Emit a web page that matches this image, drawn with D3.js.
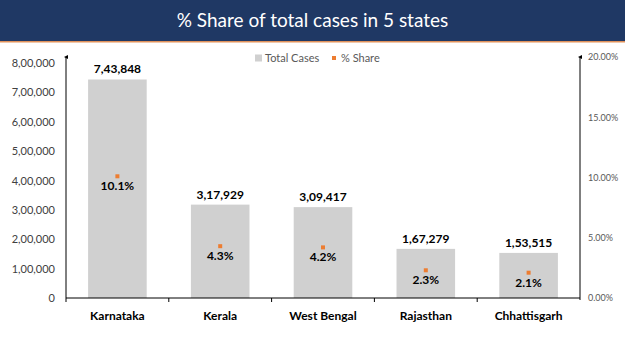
<!DOCTYPE html>
<html>
<head>
<meta charset="utf-8">
<script src="https://cdn.jsdelivr.net/npm/d3@7"></script>
<style>
  html, body { margin: 0; padding: 0; background: #fff; }
  svg { display: block; font-family: Lato, "Open Sans", sans-serif; }
</style>
</head>
<body>
<div id="chart"></div>
<script>
const states = ['Karnataka', 'Kerala', 'West Bengal', 'Rajasthan', 'Chhattisgarh'];
const totalCases = [743848, 317929, 309417, 167279, 153515];
const shares = [0.101, 0.043, 0.042, 0.023, 0.021];
const caseTicks = [0, 100000, 200000, 300000, 400000, 500000, 600000, 700000, 800000];
const shareTicks = [0, 0.05, 0.10, 0.15, 0.20];

const width = 625, height = 351;
const COLORS = { banner: '#1f3864', accent: '#e0915a', bar: '#d0d0d0', dot: '#ed7d31', text: '#404040' };

const data = states.map((s, i) => ({ state: s, cases: totalCases[i], share: shares[i] }));

const svg = d3.select('#chart').append('svg')
    .attr('width', width).attr('height', height);

// Title banner
svg.append('rect').attr('x', 0).attr('y', 0).attr('width', width).attr('height', 41)
    .attr('fill', COLORS.banner);
svg.append('rect').attr('x', 0).attr('y', 41).attr('width', width).attr('height', 1.5)
    .attr('fill', COLORS.accent);
svg.append('text').attr('x', width / 2).attr('y', 27)
    .attr('text-anchor', 'middle').attr('fill', '#fff')
    .style('font-size', '19px')
    .text('% Share of total cases in 5 states');

const left = 66, right = 580, bottom = 298;

const x = d3.scaleBand().domain(states).range([left, right]).paddingInner(0.43).paddingOuter(0.215);
const xTicks = d3.scaleBand().domain(states).range([left, right]);
const y = d3.scaleLinear().domain([0, 800000]).range([bottom, 63]);
const y2 = d3.scaleLinear().domain([0, 0.2]).range([bottom, 57]);

// Bars
svg.selectAll('rect.bar').data(data).enter().append('rect')
    .attr('class', 'bar')
    .attr('x', (d) => x(d.state))
    .attr('y', (d) => y(d.cases))
    .attr('width', x.bandwidth())
    .attr('height', (d) => bottom - y(d.cases))
    .attr('fill', COLORS.bar);

// Bar value labels
const fmtIN = (v) => {
    const s = String(v);
    if (s.length <= 3) return s;
    const last3 = s.slice(-3);
    const rest = s.slice(0, -3).replace(/\B(?=(\d{2})+(?!\d))/g, ',');
    return rest + ',' + last3;
};
svg.selectAll('text.val').data(data).enter().append('text')
    .attr('class', 'val')
    .attr('x', (d) => x(d.state) + x.bandwidth() / 2)
    .attr('y', (d) => y(d.cases) - 6)
    .attr('text-anchor', 'middle')
    .style('font-size', '12px').style('font-weight', 'bold').attr('fill', '#000')
    .text((d) => fmtIN(d.cases));

// Share markers
svg.selectAll('rect.dot').data(data).enter().append('rect')
    .attr('class', 'dot')
    .attr('x', (d) => x(d.state) + x.bandwidth() / 2 - 2)
    .attr('y', (d) => y2(d.share) - 2)
    .attr('width', 4).attr('height', 4)
    .attr('fill', COLORS.dot);
svg.selectAll('text.pct').data(data).enter().append('text')
    .attr('class', 'pct')
    .attr('x', (d) => x(d.state) + x.bandwidth() / 2)
    .attr('y', (d) => y2(d.share) + 14)
    .attr('text-anchor', 'middle')
    .style('font-size', '12px').style('font-weight', 'bold').attr('fill', '#000')
    .text((d) => (d.share * 100).toFixed(1) + '%');

// Axes
const styleAxis = (sel) => {
    sel.selectAll('text').attr('fill', COLORS.text).style('font-size', '11px')
        .style('font-family', 'Lato, "Open Sans", sans-serif');
    sel.selectAll('line').attr('stroke', '#000');
    sel.select('.domain').remove();
};

svg.append('g').attr('transform', `translate(${left},0)`)
    .call(d3.axisLeft(y).tickValues(caseTicks).tickSize(0).tickPadding(11)
        .tickFormat((d) => fmtIN(d)))
    .call(styleAxis);

svg.append('g').attr('transform', `translate(${right},0)`)
    .call(d3.axisRight(y2).tickValues(shareTicks).tickSize(0).tickPadding(8)
        .tickFormat(d3.format('.2%')))
    .call(styleAxis)
    .call((sel) => sel.selectAll('text').style('font-size', '9px').attr('fill', '#595959'));

// Axis lines with arrow heads
svg.append('defs').append('marker')
    .attr('id', 'arrow').attr('viewBox', '0 0 6 6').attr('refX', 3).attr('refY', 3)
    .attr('markerWidth', 4).attr('markerHeight', 4).attr('orient', 'auto')
    .append('path').attr('d', 'M0,6 L3,0 L6,6 Z').attr('fill', '#000');
svg.append('line').attr('x1', left).attr('x2', left).attr('y1', bottom).attr('y2', 57)
    .attr('stroke', '#000').attr('marker-end', 'url(#arrow)');
svg.append('line').attr('x1', right).attr('x2', right).attr('y1', bottom + 2).attr('y2', 57)
    .attr('stroke', '#000').attr('marker-end', 'url(#arrow)');

// X axis
svg.append('g').attr('transform', `translate(0,${bottom})`)
    .call(d3.axisBottom(x).tickSize(0).tickPadding(13))
    .call(styleAxis)
    .call((sel) => sel.selectAll('text').attr('fill', '#000').style('font-size', '12px').style('font-weight', 'bold'));
svg.append('line').attr('x1', left).attr('x2', right).attr('y1', bottom).attr('y2', bottom)
    .attr('stroke', '#000');
svg.selectAll('line.xtick').data(states).enter().append('line')
    .attr('class', 'xtick')
    .attr('x1', (d) => xTicks(d)).attr('x2', (d) => xTicks(d))
    .attr('y1', bottom).attr('y2', bottom + 4)
    .attr('stroke', '#000');

// Legend
const legend = svg.append('g').attr('transform', 'translate(255,58)');
legend.append('rect').attr('x', 0).attr('y', -3.5).attr('width', 7).attr('height', 7).attr('fill', COLORS.bar);
legend.append('text').attr('x', 10).attr('y', 4).style('font-size', '11px').attr('fill', '#595959').text('Total Cases');
legend.append('rect').attr('x', 77).attr('y', -2).attr('width', 4).attr('height', 4).attr('fill', COLORS.dot);
legend.append('text').attr('x', 86).attr('y', 4).style('font-size', '11px').attr('fill', '#595959').text('% Share');
</script>
</body>
</html>
